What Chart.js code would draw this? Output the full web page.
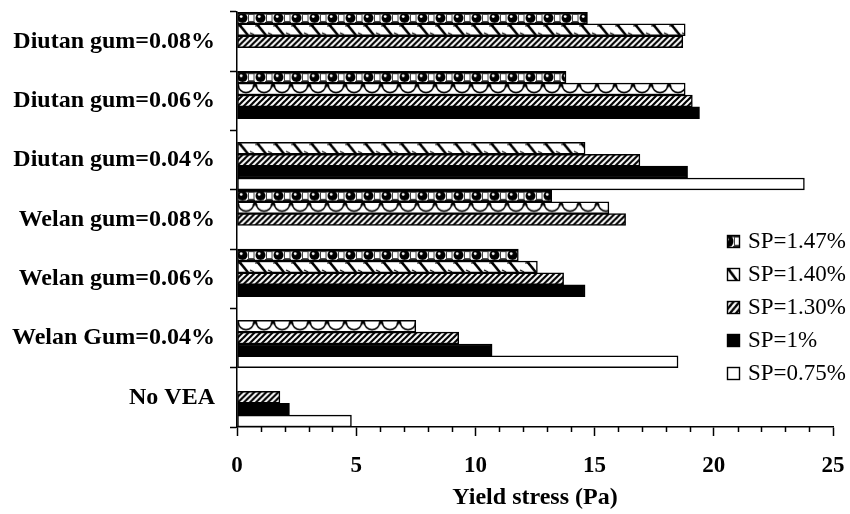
<!DOCTYPE html>
<html lang="en">
<head>
<meta charset="UTF-8">
<title>Yield stress</title>
<style>
  body { margin: 0; background: #fff; }
</style>
</head>
<body>
<canvas id="yieldChart" width="850" height="514"></canvas>
<script src="https://cdn.jsdelivr.net/npm/chart.js"></script>
<script>
const mixes = ['Diutan gum=0.08%', 'Diutan gum=0.06%', 'Diutan gum=0.04%', 'Welan gum=0.08%', 'Welan gum=0.06%', 'Welan Gum=0.04%', 'No VEA'];
const spLabels = ['SP=1.47%', 'SP=1.40%', 'SP=1.30%', 'SP=1%', 'SP=0.75%'];
const sp147 = [14.7, 13.8, null, 13.2, 11.8, null, null];
const sp140 = [18.8, 18.8, 14.6, 15.6, 12.6, 7.5, null];
const sp130 = [18.7, 19.1, 16.9, 16.3, 13.7, 9.3, 1.8];
const sp100 = [null, 19.4, 18.9, null, 14.6, 10.7, 2.2];
const sp075 = [null, null, 23.8, null, null, 18.5, 4.8];
const xMin = 0, xMax = 25, xStep = 5;

const CAT_PCT = 1;
const serif = '"Liberation Serif", "Times New Roman", serif';

// small repeating tiles for the hatched fills
function tile(w, h, draw) {
  const cv = document.createElement('canvas');
  cv.width = w; cv.height = h;
  const g = cv.getContext('2d');
  g.fillStyle = '#fff'; g.fillRect(0, 0, w, h);
  g.fillStyle = '#000'; g.strokeStyle = '#000';
  draw(g);
  return cv;
}

const tiles = {
  hatch: tile(6, 6, g => {
    g.lineWidth = 2.2;
    g.beginPath();
    g.moveTo(-3, 3); g.lineTo(3, -3);
    g.moveTo(0, 6); g.lineTo(6, 0);
    g.moveTo(3, 9); g.lineTo(9, 3);
    g.stroke();
  }),
  sphere: tile(18, 12, g => {
    g.fillRect(0, 0, 18, 2.5);
    g.beginPath(); g.arc(5.5, 6, 5, 0, Math.PI * 2); g.fill();
    g.fillStyle = '#fff';
    g.beginPath(); g.arc(4.2, 4.6, 1.4, 0, Math.PI * 2); g.fill();
    g.strokeStyle = '#444';
    g.lineWidth = 1;
    g.strokeRect(11.5, 2.5, 5.5, 7);
    g.fillStyle = '#222';
    g.fillRect(10, 10, 8, 2);
  }),
  strokes: tile(18, 12, g => {
    g.lineWidth = 2.6;
    g.beginPath();
    g.moveTo(2, 0.5); g.lineTo(11, 11.5);
    g.stroke();
    g.lineWidth = 1.2;
    g.beginPath();
    g.moveTo(0, 2); g.lineTo(5, 2);
    g.moveTo(13, 9); g.lineTo(17, 11);
    g.stroke();
  }),
  arcs: tile(18, 12, g => {
    g.lineWidth = 1.6;
    g.beginPath(); g.arc(9, 2, 7.6, 0, Math.PI); g.stroke();
    g.beginPath();
    g.moveTo(-2.5, 0); g.lineTo(2.5, 0); g.lineTo(0, 5); g.closePath();
    g.moveTo(15.5, 0); g.lineTo(20.5, 0); g.lineTo(18, 5); g.closePath();
    g.fill();
  })
};

function patternAt(ctx2d, name, x, y, sy) {
  const p = ctx2d.createPattern(tiles[name], 'repeat');
  p.setTransform(new DOMMatrix([1, 0, 0, sy || 1, x, y]));
  return p;
}

// scriptable fill: pattern anchored to the top of each bar slot
function slotFill(kind) {
  return ctx => {
    const chart = ctx.chart;
    const y = chart.scales && chart.scales.y;
    if (ctx.type !== 'data' || !y || !chart.chartArea) return '#fff';
    const band = Math.abs(y.getPixelForValue(1) - y.getPixelForValue(0));
    const group = band * CAT_PCT;
    const n = chart.data.datasets.length;
    const slot = group / n;
    const top = y.getPixelForValue(ctx.dataIndex) - group / 2 + ctx.datasetIndex * slot;
    const name = kind === 'wave' ? (ctx.dataIndex % 2 ? 'arcs' : 'strokes') : kind;
    return patternAt(chart.ctx, name, chart.chartArea.left, top, slot / 12);
  };
}

const fills = ['sphere', 'wave', 'hatch', '#000', '#fff'];

const minorTicks = {
  id: 'minorTicks',
  afterDraw(chart) {
    const x = chart.scales.x, c = chart.ctx, base = chart.chartArea.bottom;
    c.save();
    c.strokeStyle = '#000';
    c.lineWidth = 1.5;
    for (let v = xMin; v <= xMax; v++) {
      if (v % xStep === 0) continue;
      const px = Math.round(x.getPixelForValue(v)) + 0.5;
      c.beginPath(); c.moveTo(px, base); c.lineTo(px, base + 5); c.stroke();
    }
    c.restore();
  }
};

const boxLegend = {
  id: 'boxLegend',
  afterDraw(chart) {
    const c = chart.ctx;
    const bx = 727, size = 13;
    c.save();
    c.font = '23px ' + serif;
    c.textBaseline = 'middle';
    chart.data.datasets.forEach((ds, i) => {
      const cy = 241 + i * 33;
      const by = Math.round(cy - size / 2);
      const f = fills[i];
      if (f === 'wave') c.fillStyle = patternAt(c, 'strokes', bx - 1, by, 1.1);
      else if (f.startsWith('#')) c.fillStyle = f;
      else c.fillStyle = patternAt(c, f, bx - 4, by - 1, 1.2);
      c.fillRect(bx, by, size, size);
      c.lineWidth = 1.4;
      c.strokeStyle = '#000';
      c.strokeRect(bx + 0.5, by + 0.5, size - 1, size - 1);
      c.fillStyle = '#000';
      c.fillText(ds.label, 748, cy + 1);
    });
    c.restore();
  }
};

// keep the plot box where it is, whatever the label overhang
function pinScale(size) {
  return s => {
    if (s.isHorizontal()) s.height = size; else s.width = size;
    s.paddingTop = 0; s.paddingBottom = 0; s.paddingLeft = 0; s.paddingRight = 0;
  };
}

const series = [sp147, sp140, sp130, sp100, sp075];
const datasets = series.map((vals, i) => ({
  label: spLabels[i],
  data: vals,
  backgroundColor: fills[i].startsWith('#') ? fills[i] : slotFill(fills[i]),
  borderColor: '#000',
  borderWidth: 1.5,
  borderSkipped: false,
  categoryPercentage: CAT_PCT,
  barPercentage: 1
}));

Chart.defaults.font.family = serif;
Chart.defaults.color = '#000';

new Chart(document.getElementById('yieldChart'), {
  type: 'bar',
  data: { labels: mixes, datasets: datasets },
  options: {
    indexAxis: 'y',
    responsive: false,
    animation: false,
    events: [],
    layout: { padding: { top: 12, right: 17, bottom: 0, left: 0 } },
    plugins: { legend: { display: false }, tooltip: { enabled: false } },
    scales: {
      y: {
        offset: true,
        grid: { offset: true, drawOnChartArea: false, tickLength: 7, tickColor: '#000', tickWidth: 1.5 },
        border: { color: '#000', width: 1.5 },
        ticks: { color: '#000', font: { size: 24, weight: 'bold' }, padding: 15 },
        afterFit: pinScale(237)
      },
      x: {
        min: xMin,
        max: xMax,
        grid: { drawOnChartArea: false, tickLength: 9, tickColor: '#000', tickWidth: 1.5 },
        border: { color: '#000', width: 1.5 },
        ticks: { stepSize: xStep, color: '#000', font: { size: 23, weight: 'bold' }, padding: 16 },
        title: {
          display: true,
          text: 'Yield stress (Pa)',
          color: '#000',
          font: { size: 24, weight: 'bold' },
          padding: { top: 0, bottom: 2 }
        },
        afterFit: pinScale(87)
      }
    }
  },
  plugins: [minorTicks, boxLegend]
});
</script>
</body>
</html>
